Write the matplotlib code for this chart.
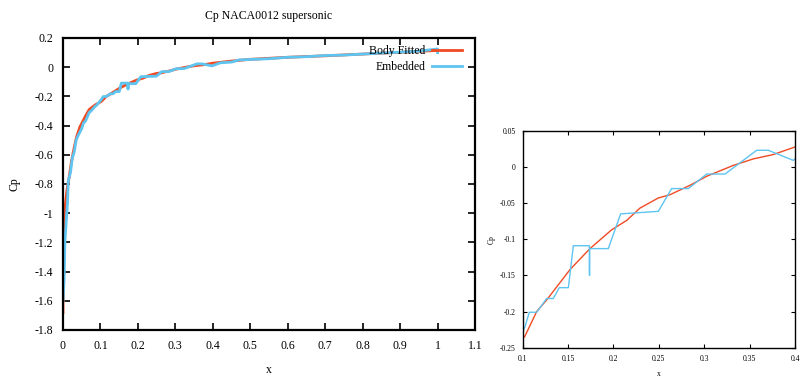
import matplotlib
matplotlib.use("Agg")
import matplotlib.pyplot as plt

plt.rcParams["font.family"] = ["Liberation Serif", "DejaVu Serif"]

# -------------------------------
# data
# -------------------------------

body_x = [0.0, 0.0, 0.001, 0.002, 0.004, 0.006, 0.010, 0.016, 0.023, 0.030, 0.036,
          0.045, 0.059, 0.070, 0.085, 0.1025, 0.1154, 0.1264, 0.1521, 0.1741,
          0.198, 0.2146, 0.2292, 0.2494, 0.2623, 0.2843, 0.3027, 0.332, 0.354,
          0.376, 0.40, 0.45, 0.50, 0.60, 0.70, 0.80, 0.90, 1.0]
body_cp = [-1.68, -1.62, -1.45, -1.30, -1.10, -0.95, -0.85, -0.76, -0.64, -0.55, -0.48,
           -0.41, -0.34, -0.29, -0.26, -0.234, -0.200, -0.184, -0.142, -0.113,
           -0.087, -0.074, -0.057, -0.043, -0.0385, -0.0255, -0.013, 0.002, 0.011,
           0.017, 0.0275, 0.042, 0.054, 0.068, 0.078, 0.090, 0.102, 0.115]

emb_x = [0.0, 0.003, 0.005, 0.010, 0.012, 0.014, 0.020, 0.025, 0.030, 0.035, 0.040,
         0.050, 0.055, 0.060, 0.070, 0.075, 0.085, 0.090, 0.1025, 0.1073, 0.1154,
         0.1264, 0.1337, 0.1403, 0.1503, 0.1558, 0.1734, 0.1736, 0.1738, 0.1943,
         0.2079, 0.2494, 0.2641, 0.2825, 0.3027, 0.3229, 0.3578, 0.3706, 0.3981,
         0.42, 0.45, 0.47, 0.55, 0.60, 0.65, 0.70, 0.75, 0.80, 0.90, 0.95, 1.0, 1.0]
emb_cp = [-1.60, -1.45, -1.20, -1.00, -0.93, -0.78, -0.72, -0.62, -0.58, -0.50, -0.47,
          -0.42, -0.38, -0.37, -0.31, -0.30, -0.27, -0.26, -0.221, -0.201, -0.201,
          -0.182, -0.182, -0.167, -0.167, -0.109, -0.109, -0.150, -0.113, -0.113,
          -0.065, -0.0615, -0.030, -0.030, -0.0099, -0.0099, 0.0229, 0.0229, 0.009,
          0.030, 0.035, 0.050, 0.058, 0.068, 0.072, 0.080, 0.083, 0.090, 0.103, 0.110,
          0.125, 0.100]

main_xticks = [0, 0.1, 0.2, 0.3, 0.4, 0.5, 0.6, 0.7, 0.8, 0.9, 1, 1.1]
main_xlabels = ["0", "0.1", "0.2", "0.3", "0.4", "0.5", "0.6", "0.7", "0.8", "0.9", "1", "1.1"]
main_yticks = [0.2, 0, -0.2, -0.4, -0.6, -0.8, -1, -1.2, -1.4, -1.6, -1.8]
main_ylabels = ["0.2", "0", "-0.2", "-0.4", "-0.6", "-0.8", "-1", "-1.2", "-1.4", "-1.6", "-1.8"]

zoom_xticks = [0.1, 0.15, 0.2, 0.25, 0.3, 0.35, 0.4]
zoom_xlabels = ["0.1", "0.15", "0.2", "0.25", "0.3", "0.35", "0.4"]
zoom_yticks = [0.05, 0, -0.05, -0.1, -0.15, -0.2, -0.25]
zoom_ylabels = ["0.05", "0", "-0.05", "-0.1", "-0.15", "-0.2", "-0.25"]

RED = "#f04a24"
BLUE = "#5ec4f0"

# -------------------------------
# figure
# -------------------------------

fig = plt.figure(figsize=(8.0, 3.77), dpi=100)

ax = fig.add_axes([63 / 800, 1 - 330 / 377, 412 / 800, 292 / 377])
ax.plot(body_x, body_cp, color=RED, lw=2.0, label="Body Fitted")
ax.plot(emb_x, emb_cp, color=BLUE, lw=2.0, label="Embedded")
ax.set_xlim(0, 1.1)
ax.set_ylim(-1.8, 0.2)
ax.set_xticks(main_xticks, main_xlabels)
ax.set_yticks(main_yticks, main_ylabels)
ax.tick_params(direction="in", top=True, right=True, length=5, width=1.2,
               labelsize=8.5, pad=7)
for s in ax.spines.values():
    s.set_linewidth(1.6)
ax.set_title("Cp NACA0012 supersonic", fontsize=8.5, pad=14)
ax.set_xlabel("x", fontsize=8.5, labelpad=9)
ax.set_ylabel("Cp", fontsize=8.5, labelpad=10)
ax.legend(loc="upper right", bbox_to_anchor=(0.968, 0.976), frameon=False,
          markerfirst=False, fontsize=8.5, handlelength=2.5, handletextpad=0.6,
          labelspacing=0.35, borderpad=0, borderaxespad=0)

# zoomed panel
ax2 = fig.add_axes([522.7 / 800, 1 - 347.7 / 377, 272.3 / 800, 217 / 377])
ax2.plot(body_x, body_cp, color=RED, lw=1.0)
ax2.plot(emb_x, emb_cp, color=BLUE, lw=1.0)
ax2.set_xlim(0.1, 0.4)
ax2.set_ylim(-0.25, 0.05)
ax2.set_xticks(zoom_xticks, zoom_xlabels)
ax2.set_yticks(zoom_yticks, zoom_ylabels)
ax2.tick_params(direction="in", top=True, right=True, length=3, width=0.8,
                labelsize=5.5, pad=5)
for s in ax2.spines.values():
    s.set_linewidth(1.0)
ax2.set_xlabel("x", fontsize=5.5, labelpad=5)
ax2.set_ylabel("Cp", fontsize=5.5, labelpad=3)

fig.savefig("out.png", dpi=100)
